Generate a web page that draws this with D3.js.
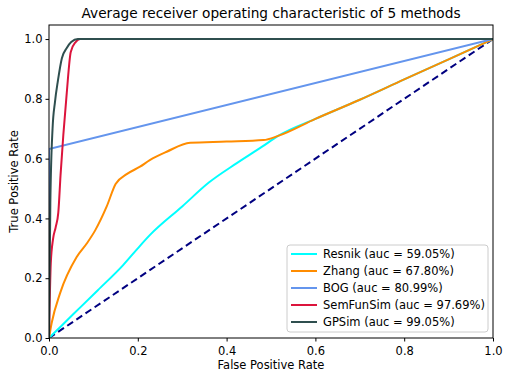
<!DOCTYPE html>
<html>
<head>
<meta charset="utf-8">
<script src="https://d3js.org/d3.v7.min.js"></script>
<style>
  body { margin: 0; background: #fff; }
  svg { font-family: "DejaVu Sans", sans-serif; }
</style>
</head>
<body>
<svg id="drawing_region"></svg>
<script>
// ROC points: [fpr, tpr]
const resnik = [[0,0],[0.055,0.08],[0.11,0.16],[0.167,0.244],[0.2,0.30],[0.227,0.344],[0.3,0.44],[0.36,0.52],[0.423,0.585],[0.48,0.64],[0.516,0.676],[0.6,0.733],[0.7,0.797],[0.8,0.865],[0.9,0.932],[1,1]];
const zhang = [[0,0],[0.006,0.05],[0.025,0.15],[0.062,0.27],[0.085,0.316],[0.104,0.36],[0.13,0.44],[0.15,0.515],[0.175,0.548],[0.205,0.573],[0.227,0.595],[0.265,0.623],[0.318,0.653],[0.4,0.657],[0.483,0.662],[0.516,0.676],[0.6,0.733],[0.7,0.797],[0.8,0.865],[0.9,0.932],[1,1]];
const bog = [[0,0],[0,0.632],[1,1]];
const semfunsim = [[0,0],[0.004,0.25],[0.009,0.33],[0.015,0.37],[0.021,0.42],[0.026,0.545],[0.04,0.82],[0.049,0.957],[0.06,0.99],[0.07,1.0],[1,1]];
const gpsim = [[0,0],[0.003,0.45],[0.008,0.7],[0.0135,0.79],[0.02,0.86],[0.029,0.936],[0.04,0.97],[0.05,0.99],[0.065,1.0],[1,1]];
const chance = [[0,0],[1,1]];

const names = ["Resnik", "Zhang", "BOG", "SemFunSim", "GPSim"];
const aucs = ["59.05%", "67.80%", "80.99%", "97.69%", "99.05%"];
const colors = ["#00ffff", "#ff8c00", "#6495ed", "#dc143c", "#2f4f4f"];
const series = [resnik, zhang, bog, semfunsim, gpsim];
const ticks = [0, 0.2, 0.4, 0.6, 0.8, 1.0];

const config = {
    width: 510,
    height: 374,
    margin: { top: 25, right: 17, bottom: 36, left: 49 },
    title: "Average receiver operating characteristic of 5 methods",
    xlabel: "False Positive Rate",
    ylabel: "True Positive Rate",
};

const svg = d3.select('#drawing_region')
    .attr('width', config.width)
    .attr('height', config.height);

const inner_width = config.width - config.margin.left - config.margin.right;
const inner_height = config.height - config.margin.top - config.margin.bottom;

const chart = svg.append('g')
    .attr('transform', `translate(${config.margin.left}, ${config.margin.top})`);

const xscale = d3.scaleLinear().domain([0, 1]).range([0, inner_width]);
const yscale = d3.scaleLinear().domain([0, 1.047]).range([inner_height, 0]);

// clip so curves stay in the frame
chart.append('clipPath').attr('id', 'clip')
    .append('rect').attr('width', inner_width).attr('height', inner_height);

const plot = chart.append('g').attr('clip-path', 'url(#clip)');

// chance line
plot.append('path')
    .datum(chance)
    .attr('d', d3.line().x(d => xscale(d[0])).y(d => yscale(d[1])))
    .attr('fill', 'none')
    .attr('stroke', '#000080')
    .attr('stroke-width', 2)
    .attr('stroke-dasharray', '7,4');

series.forEach((s, i) => {
    const curve = (i == 2) ? d3.curveLinear : d3.curveMonotoneX;
    plot.append('path')
        .datum(s)
        .attr('d', d3.line().curve(curve).x(d => xscale(d[0])).y(d => yscale(d[1])))
        .attr('fill', 'none')
        .attr('stroke', colors[i])
        .attr('stroke-width', 2);
});

// axes
const xaxis = d3.axisBottom(xscale).tickValues(ticks).tickFormat(d3.format('.1f')).tickSizeOuter(0).tickSize(3.5);
const yaxis = d3.axisLeft(yscale).tickValues(ticks).tickFormat(d3.format('.1f')).tickSizeOuter(0).tickSize(3.5);

const xg = chart.append('g')
    .attr('transform', `translate(0, ${inner_height})`)
    .call(xaxis);
const yg = chart.append('g').call(yaxis);

[xg, yg].forEach(g => {
    g.select('.domain').remove();
    g.selectAll('text').attr('font-size', '11.5px').attr('fill', '#000')
        .attr('font-family', '"DejaVu Sans", sans-serif');
    g.selectAll('line').attr('stroke', '#000');
});
xg.selectAll('text').attr('dy', '0.95em');

// frame
chart.append('rect')
    .attr('width', inner_width)
    .attr('height', inner_height)
    .attr('fill', 'none')
    .attr('stroke', '#000')
    .attr('stroke-width', 1);

// labels
svg.append('text')
    .attr('x', config.margin.left + inner_width / 2)
    .attr('y', 18)
    .attr('font-size', '13.7px')
    .attr('text-anchor', 'middle')
    .text(config.title);

svg.append('text')
    .attr('x', config.margin.left + inner_width / 2)
    .attr('y', 369)
    .attr('font-size', '11.5px')
    .attr('text-anchor', 'middle')
    .text(config.xlabel);

svg.append('text')
    .attr('transform', `translate(18, ${config.margin.top + inner_height / 2}) rotate(-90)`)
    .attr('font-size', '11.5px')
    .attr('text-anchor', 'middle')
    .text(config.ylabel);

// legend
const legend = svg.append('g').attr('transform', 'translate(287, 245)');
legend.append('rect')
    .attr('width', 201)
    .attr('height', 87)
    .attr('rx', 3)
    .attr('fill', '#fff')
    .attr('fill-opacity', 0.8)
    .attr('stroke', '#ccc');

names.forEach((n, i) => {
    const y = 9 + i * 17;
    legend.append('line')
        .attr('x1', 4).attr('x2', 30)
        .attr('y1', y).attr('y2', y)
        .attr('stroke', colors[i])
        .attr('stroke-width', 2);
    legend.append('text')
        .attr('x', 36)
        .attr('y', y + 4)
        .attr('font-size', '11.5px')
        .text(`${n} (auc = ${aucs[i]})`);
});
</script>
</body>
</html>
